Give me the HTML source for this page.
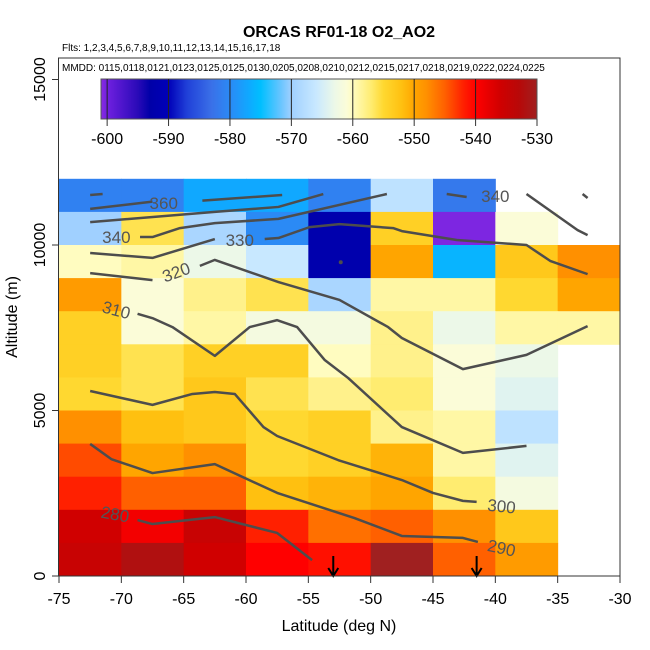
<!DOCTYPE html>
<html><head><meta charset="utf-8"><style>
html,body{margin:0;padding:0;background:#fff;}
svg{display:block;font-family:"Liberation Sans",Arial,sans-serif;}
</style></head><body>
<svg id="chart" width="650" height="650" viewBox="0 0 650 650">
<defs><linearGradient id="cbgrad" x1="0" x2="1" y1="0" y2="0"></linearGradient></defs>
<g id="cells"></g>
<g id="contours"></g>
<g id="colorbar"></g>
<g id="axes"></g>
<text x="339" y="37" text-anchor="middle" font-size="16" font-weight="bold">ORCAS RF01-18 O2_AO2</text>
<text x="62" y="51" font-size="10">Flts: 1,2,3,4,5,6,7,8,9,10,11,12,13,14,15,16,17,18</text>
<text x="62" y="71" font-size="10">MMDD: 0115,0118,0121,0123,0125,0125,0130,0205,0208,0210,0212,0215,0217,0218,0219,0222,0224,0225</text>
<text x="339" y="631" text-anchor="middle" font-size="16">Latitude (deg N)</text>
<text transform="translate(17,317) rotate(-90)" text-anchor="middle" font-size="16">Altitude (m)</text>
</svg>
<script>
const lats=[-72.5,-67.5,-62.5,-57.5,-52.5,-47.5,-42.5,-37.5,-32.5];
const alts=[11500,10500,9500,8500,7500,6500,5500,4500,3500,2500,1500,500];
const row11500=[-581,-581,-577,-577,-581,-567,-582,null,null];
const row10500=[-570,-556,-569,-580,-592,-554,-600.5,-561,null];
const row9500=[-560,-559,-563,-566,-592,-550,-576,-553,-548];
const row8500=[-549,-561,-558,-556,-569,-559,-559,-555,-550];
const row7500=[-554,-561,-559,-562,-562,-558,-563,-559,-559];
const row6500=[-554,-556,-554,-554,-560,-558,-561,-563,null];
const row5500=[-555,-556,-553,-556,-558,-557,-561,-564,null];
const row4500=[-548,-552,-553,-555,-554,-558,-559,-567,null];
const row3500=[-544,-550,-548,-555,-554,-551,-559,-564,null];
const row2500=[-542,-545,-545,-552,-551,-550,-557,-562,null];
const row1500=[-536,-539,-535,-542,-546,-545,-548,-553,null];
const row500=[-535,-532,-536,-540,-541,-530,-545,-549,null];
const values=[row11500,row10500,row9500,row8500,row7500,row6500,row5500,row4500,row3500,row2500,row1500,row500];
const xTicks=[-75,-70,-65,-60,-55,-50,-45,-40,-35,-30];
const yTicks=[0,5000,10000,15000];
const cbTicks=[-600,-590,-580,-570,-560,-550,-540,-530];
const arrowLats=[-53.0,-41.5];
const contourA0=[[-72.5,11510],[-71.5,11540]];
const contourA1=[[-72.5,11090],[-67.5,11310]];
const contourA2=[[-63.5,11340],[-57.1,11510]];
const contourB=[[-72.5,10690],[-62.5,11000],[-57.4,11150],[-53.8,11540]];
const contourC=[[-68.5,10240],[-67.5,10240],[-65.3,10510],[-62.5,10660],[-57.4,10790],[-48.7,11540]];
const contourC1=[[-43.9,11540],[-42.3,11450]];
const contourC2=[[-37.5,11540],[-33.4,10450],[-32.6,10300]];
const contourC3=[[-33.0,11540],[-32.6,11420]];
const contourD1=[[-72.5,9760],[-67.5,9610],[-62.5,10180]];
const contourD2=[[-58.5,10180],[-57.4,10210],[-54.9,10540],[-52.5,10630],[-48.2,10510],[-47.5,10420],[-43.1,10150],[-37.5,10000],[-35.6,9520],[-32.6,9120]];
const contourE1=[[-72.5,9150],[-67.5,8940]];
const contourE2=[[-63.7,9370],[-62.5,9550],[-57.4,8880],[-52.5,8340],[-48.6,7520],[-47.5,7190],[-42.6,6250],[-37.5,6680],[-32.6,7550]];
const contourF=[[-68.7,7920],[-67.5,7790],[-65.9,7520],[-62.5,6650],[-59.7,7520],[-57.5,7730],[-55.9,7520],[-53.7,6530],[-51.8,5980],[-47.5,4500],[-42.6,3720],[-37.5,3930]];
const contourG=[[-72.5,5590],[-67.5,5170],[-64.3,5500],[-62.5,5560],[-60.9,5500],[-58.6,4500],[-57.5,4230],[-52.6,3500],[-47.5,2900],[-45.0,2510],[-42.6,2270],[-41.5,2240]];
const contourH=[[-72.5,3990],[-70.8,3530],[-67.5,3110],[-62.5,3380],[-60.1,2960],[-57.5,2510],[-51.3,1750],[-47.5,1210],[-42.6,1150],[-41.4,1030]];
const contourI=[[-68.7,1690],[-67.5,1570],[-62.5,1780],[-57.5,1300],[-54.7,480]];
const contours=[contourA0,contourA1,contourA2,contourB,contourC,contourC1,contourC2,contourC3,contourD1,contourD2,contourE1,contourE2,contourF,contourG,contourH,contourI];
const labelText=["360","340","330","320","310","280","300","290","340"];
const labelPos=[[-66.6,11270],[-70.4,10240],[-60.5,10150],[-65.6,9180],[-70.4,8040],[-70.5,1870],[-39.5,2110],[-39.5,850],[-40.0,11480]];
const labelRot=[0,0,0,-20,15,10,6,12,0];

const NS="http://www.w3.org/2000/svg";
const X0=59,X1=620,Y0=576,PT=58;
function xs(lat){return X0+(lat+75)*(X1-X0)/45;}
function ys(alt){return Y0-alt*0.0331;}
const stops=[[-601,"#8a2be2"],[-600,"#7020e0"],[-595,"#2a0ab8"],[-593,"#0000a8"],[-590,"#0000b8"],[-587,"#2040d8"],[-583,"#3a70e8"],[-580,"#2b8af5"],[-577,"#10a8ff"],[-575,"#00bfff"],[-572,"#60c4ff"],[-570,"#a0d0ff"],[-566,"#c8e8ff"],[-563,"#ecf8e8"],[-561,"#fbfcd8"],[-560,"#fffcc0"],[-557,"#ffec70"],[-555,"#ffd830"],[-552,"#ffc010"],[-550,"#ffa500"],[-548,"#ff9000"],[-545,"#ff6000"],[-542,"#ff2000"],[-540,"#ff0000"],[-536,"#d00000"],[-533,"#b80808"],[-530,"#a02020"]];
function hex(c){return [parseInt(c.substr(1,2),16),parseInt(c.substr(3,2),16),parseInt(c.substr(5,2),16)];}
function cmap(v){
 if(v<=stops[0][0])return stops[0][1];
 for(let i=1;i<stops.length;i++){
  if(v<=stops[i][0]){const a=hex(stops[i-1][1]),b=hex(stops[i][1]);const t=(v-stops[i-1][0])/(stops[i][0]-stops[i-1][0]);
   return "rgb("+a.map((q,k)=>Math.round(q+(b[k]-q)*t)).join(",")+")";}
 }
 return stops[stops.length-1][1];
}
function mk(tag,attrs,parent){const e=document.createElementNS(NS,tag);for(const k in attrs)e.setAttribute(k,attrs[k]);parent.appendChild(e);return e;}

const gc=document.getElementById("cells");
for(let r=0;r<alts.length;r++){for(let c=0;c<lats.length;c++){
 const v=values[r][c];if(v===null)continue;
 const x=xs(lats[c]-2.5),x2=xs(lats[c]+2.5),y=ys(alts[r]+500),y2=ys(alts[r]-500);
 const e=mk("rect",{x:x,y:y,width:x2-x+0.5,height:y2-y+0.5,fill:cmap(v)},gc);
 
 
}}

const gl=document.getElementById("contours");
contours.forEach(pts=>{
 const e=mk("polyline",{points:pts.map(p=>xs(p[0])+","+ys(p[1])).join(" "),fill:"none",stroke:"#4d4d4d","stroke-width":2.5,"stroke-linejoin":"round"},gl);
 
 
});
labelText.forEach((t,i)=>{
 const x=xs(labelPos[i][0]),y=ys(labelPos[i][1]);
 const e=mk("text",{x:x,y:y+6,"text-anchor":"middle","font-size":17,fill:"#555",transform:"rotate("+labelRot[i]+","+x+","+y+")"},gl);
 e.textContent=t;
 
 
});
const dot=mk("circle",{cx:xs(-52.4),cy:ys(9480),r:2,fill:"#4d4d4d"},gl);


arrowLats.forEach(l=>{
 const x=xs(l);
 const e=mk("path",{d:"M"+x+" 556 L"+x+" 575 M"+(x-5)+" 568 L"+x+" 576 L"+(x+5)+" 568",stroke:"#000","stroke-width":2,fill:"none"},gl);
 
 
});

const CB0=101,CB1=537,CBT=79,CBB=119;
function cx(v){return CB0+(v+601)*(CB1-CB0)/71;}
const grad=document.getElementById("cbgrad");
stops.forEach(s=>{mk("stop",{offset:((s[0]+601)/71*100)+"%","stop-color":s[1]},grad);});
const gcb=document.getElementById("colorbar");
const cbr=mk("rect",{x:CB0,y:CBT,width:CB1-CB0,height:CBB-CBT,fill:"url(#cbgrad)",stroke:"#555","stroke-width":1},gcb);


cbTicks.forEach(v=>{
 const x=cx(v);
 if(v<-530)mk("line",{x1:x,x2:x,y1:CBT,y2:CBB,stroke:"#222","stroke-width":1},gcb);
 mk("line",{x1:x,x2:x,y1:CBB,y2:CBB+7,stroke:"#333","stroke-width":1},gcb);
 const t=mk("text",{x:x,y:CBB+25,"text-anchor":"middle","font-size":16},gcb);
 t.textContent=String(v);
 
 
});

const ga=document.getElementById("axes");
mk("rect",{x:X0-0.5,y:PT,width:X1-X0+0.5,height:Y0-PT,fill:"none",stroke:"#333","stroke-width":1},ga);
xTicks.forEach(v=>{
 const x=xs(v);
 mk("line",{x1:x,x2:x,y1:Y0,y2:Y0+7,stroke:"#333"},ga);
 const t=mk("text",{x:x,y:Y0+28,"text-anchor":"middle","font-size":16},ga);
 t.textContent=v;
 
 
});
yTicks.forEach(v=>{
 const y=ys(v);
 mk("line",{x1:X0-7,x2:X0,y1:y,y2:y,stroke:"#333"},ga);
 const t=mk("text",{x:0,y:0,"text-anchor":"middle","font-size":16,transform:"translate(45,"+y+") rotate(-90)"},ga);
 t.textContent=v;
 
 
});
</script>
</body></html>
